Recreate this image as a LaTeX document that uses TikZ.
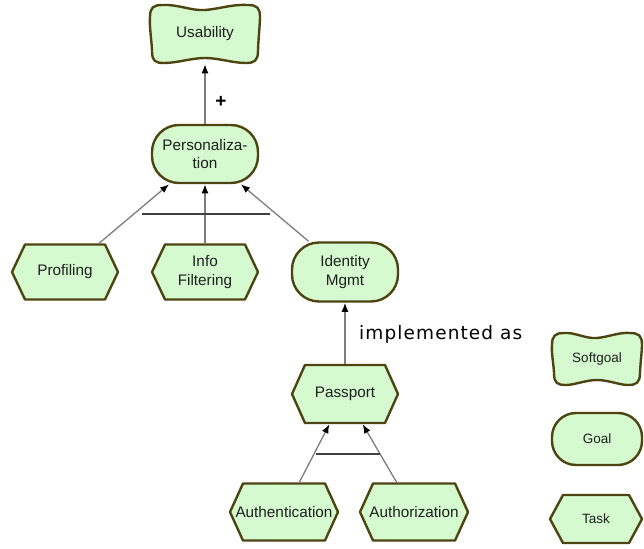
\documentclass[tikz,border=0pt]{standalone}
\usepackage{fontspec}
\setmainfont{Liberation Sans}
\newfontfamily\implfont[LetterSpace=6]{DejaVu Sans}
\usetikzlibrary{arrows.meta}
\definecolor{nodefill}{RGB}{213,250,208}
\definecolor{nodeline}{RGB}{78,68,18}
\definecolor{conngray}{RGB}{125,125,125}
\definecolor{txt}{RGB}{30,30,30}
\tikzset{
  shapeline/.style={draw=nodeline, fill=nodefill, line width=2.4pt, line join=round},
  lbl/.style={inner sep=0pt, outer sep=1.3pt, text=txt, align=center,
    font=\fontsize{15.3}{18.5}\selectfont},
  legendlbl/.style={lbl, font=\fontsize{13.5}{16}\selectfont},
  goalbox/.style={shapeline, rounded corners=27pt},
  conn/.style={draw=conngray, line width=1.3pt,
    -{Latex[length=9pt,width=7pt,color=black]}},
  andbar/.style={draw=black!75, line width=1.1pt},
}
% task: name, x, y, half width, half height, text, style
\newcommand\mytask[7]{%
  \draw[shapeline, shift={(#2,#3)}] (-#4,0) -- (-#4+13,-#5) -- (#4-13,-#5)
    -- (#4,0) -- (#4-13,#5) -- (-#4+13,#5) -- cycle;
  \node[#7, minimum width=2*#4, minimum height=2*#5] (#1) at (#2,#3) {#6};}
% softgoal: name, x, y, half width, half height, text, style
\newcommand\mysoft[7]{%
  \draw[shapeline, shift={(#2,#3)}]
    (-#4+12,-#5) .. controls (-#4/2,-#5-1) and (-#4/4,-#5+6) .. (0,-#5+5)
    .. controls (#4/4,-#5+4) and (#4/2,-#5-1) .. (#4-12,-#5)
    .. controls (#4-3,-#5) and (#4,-#5+3) .. (#4,-#5+12)
    .. controls (#4,-#5/3) and (#4-2,#5/3) .. (#4-2,#5-12)
    .. controls (#4-2,#5-2) and (#4-6,#5) .. (#4-14,#5)
    .. controls (#4/2,#5) and (#4/4,#5-5) .. (0,#5-5)
    .. controls (-#4/4,#5-5) and (-#4/2,#5) .. (-#4+14,#5)
    .. controls (-#4+5,#5) and (-#4+2,#5-2) .. (-#4+2,#5-12)
    .. controls (-#4+2,#5/3) and (-#4-1,-#5/3) .. (-#4,-#5+12)
    .. controls (-#4,-#5+3) and (-#4+3,-#5) .. (-#4+12,-#5) -- cycle;
  \node[#7, minimum width=2*#4, minimum height=2*#5] (#1) at (#2,#3) {#6};}
\begin{document}
\begin{tikzpicture}[x=1pt, y=-1pt]
\useasboundingbox (0,0) rectangle (644,548);
% main softgoal and goals
\mysoft{usab}{205}{34}{55}{29}{Usability}{lbl}
\node[goalbox, lbl, minimum width=106, minimum height=58] (pers) at (205,154) {Personaliza-\\tion};
\mytask{prof}{65}{272}{53}{27.5}{Profiling}{lbl}
\mytask{info}{205}{272}{53}{27.5}{Info\\Filtering}{lbl}
\node[goalbox, lbl, minimum width=106, minimum height=59] (ident) at (345,272) {Identity\\Mgmt};
\mytask{pass}{345}{394}{53}{29}{Passport}{lbl}
\mytask{authn}{284}{512}{54}{28.5}{Authentication}{lbl}
\mytask{authz}{414}{512}{54}{28.5}{Authorization}{lbl}
% legend
\mysoft{lsoft}{597}{359}{45}{26}{Softgoal}{legendlbl}
\node[goalbox, legendlbl, rounded corners=24pt, minimum width=90, minimum height=52] (lgoal) at (597,439) {Goal};
\mytask{ltask}{596}{519}{46}{24}{Task}{legendlbl}
% connectors
\draw[conn] (pers) -- (usab);
\node[font=\bfseries\fontsize{19}{19}\selectfont, inner sep=0pt, text=black] (plus) at (221,102) {+};
\draw[conn] (prof) -- (pers);
\draw[conn] (info) -- (pers);
\draw[conn] (ident) -- (pers);
\coordinate (and1l) at (142,214);
\coordinate (and1r) at (270,214);
\draw[andbar] (and1l) -- (and1r);
\draw[conn] (pass) -- (ident);
\node[anchor=base west, inner sep=0pt, text=black,
  font=\implfont\fontsize{18.5}{20}\selectfont] (impl) at (359,339) {implemented as};
\draw[conn] (authn) -- (pass);
\draw[conn] (authz) -- (pass);
\coordinate (and2l) at (316,454);
\coordinate (and2r) at (380,454);
\draw[andbar] (and2l) -- (and2r);
\end{tikzpicture}
\end{document}
